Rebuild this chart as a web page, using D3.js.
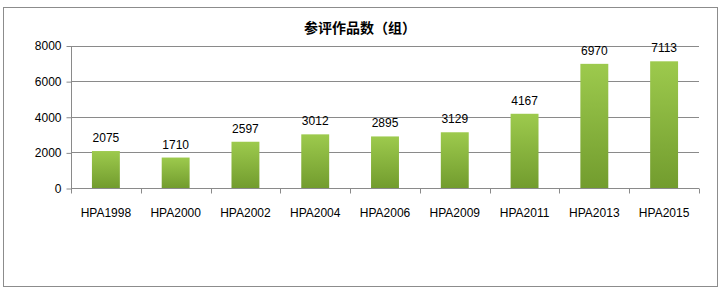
<!DOCTYPE html>
<html><head><meta charset="utf-8">
<script src="https://cdn.jsdelivr.net/npm/d3@7"></script>
<style>body{margin:0;background:#fff}svg{display:block}</style>
</head><body>
<script>
const categories = ["HPA1998","HPA2000","HPA2002","HPA2004","HPA2006","HPA2009","HPA2011","HPA2013","HPA2015"];
const values = [2075,1710,2597,3012,2895,3129,4167,6970,7113];
const yTicks = [0,2000,4000,6000,8000];
const title = "参评作品数（组）";

(function(){
const W=720,H=295;
const svg=d3.select("body").append("svg").attr("width",W).attr("height",H);
const defs=svg.append("defs");
const g=defs.append("linearGradient").attr("id","bg").attr("x1",0).attr("y1",0).attr("x2",0).attr("y2",1);
g.append("stop").attr("offset","0%").attr("stop-color","#9dca4d");
g.append("stop").attr("offset","100%").attr("stop-color","#729c2e");

svg.append("rect").attr("x",3.5).attr("y",7.5).attr("width",714).attr("height",279)
  .attr("fill","#fff").attr("stroke","#8c8c8c").attr("stroke-width",1);

const pL=71,pR=699,pT=45.5,pB=188;
const x=d3.scaleBand().domain(categories).range([pL,pR]).paddingInner(0.6).paddingOuter(0.3);
const y=d3.scaleLinear().domain([0,8000]).range([pB,pT]);

const font="'Liberation Sans','DejaVu Sans',sans-serif";

svg.append("g").selectAll("line").data(yTicks.filter(d=>d>0)).join("line")
  .attr("x1",pL).attr("x2",pR).attr("y1",d=>Math.round(y(d))+0.5).attr("y2",d=>Math.round(y(d))+0.5)
  .attr("stroke","#8a8a8a").attr("stroke-width",1);

const ya=svg.append("g").attr("transform",`translate(${pL+0.5},0.5)`)
  .call(d3.axisLeft(y).tickValues(yTicks).tickSize(5).tickPadding(5).tickFormat(d3.format("d")));
ya.select(".domain").attr("stroke","#8a8a8a").attr("d",`M0,${Math.round(pT)}V${Math.round(pB)}`);
ya.selectAll(".tick line").attr("stroke","#8a8a8a");
ya.selectAll("text").attr("font-family",font).attr("font-size",12).attr("fill","#000");

svg.append("g").selectAll("rect").data(values).join("rect")
  .attr("x",(d,i)=>x(categories[i])).attr("width",x.bandwidth())
  .attr("y",d=>y(d)).attr("height",d=>pB-y(d)).attr("fill","url(#bg)");

const step=(pR-pL)/categories.length;
const xa=svg.append("g").attr("transform",`translate(0,${Math.round(pB)+0.5})`);
xa.append("line").attr("x1",pL).attr("x2",pR).attr("stroke","#8a8a8a");
xa.selectAll(".tk").data(d3.range(categories.length+1)).join("line")
  .attr("x1",i=>Math.round(pL+i*step)+0.5).attr("x2",i=>Math.round(pL+i*step)+0.5)
  .attr("y1",0).attr("y2",5).attr("stroke","#8a8a8a");
xa.selectAll("text").data(categories).join("text")
  .attr("x",d=>x(d)+x.bandwidth()/2).attr("y",28).attr("text-anchor","middle")
  .attr("font-family",font).attr("font-size",12).attr("fill","#000").text(d=>d);

svg.append("g").selectAll("text").data(values).join("text")
  .attr("x",(d,i)=>x(categories[i])+x.bandwidth()/2).attr("y",d=>y(d)-9)
  .attr("text-anchor","middle").attr("font-family",font).attr("font-size",12).attr("fill","#000").text(d=>d);

svg.append("text").attr("x",360).attr("y",33).attr("text-anchor","middle")
  .attr("font-family","'Noto Sans CJK SC',sans-serif").attr("font-weight","bold").attr("font-size",14).text(title);
})();
</script>
</body></html>
